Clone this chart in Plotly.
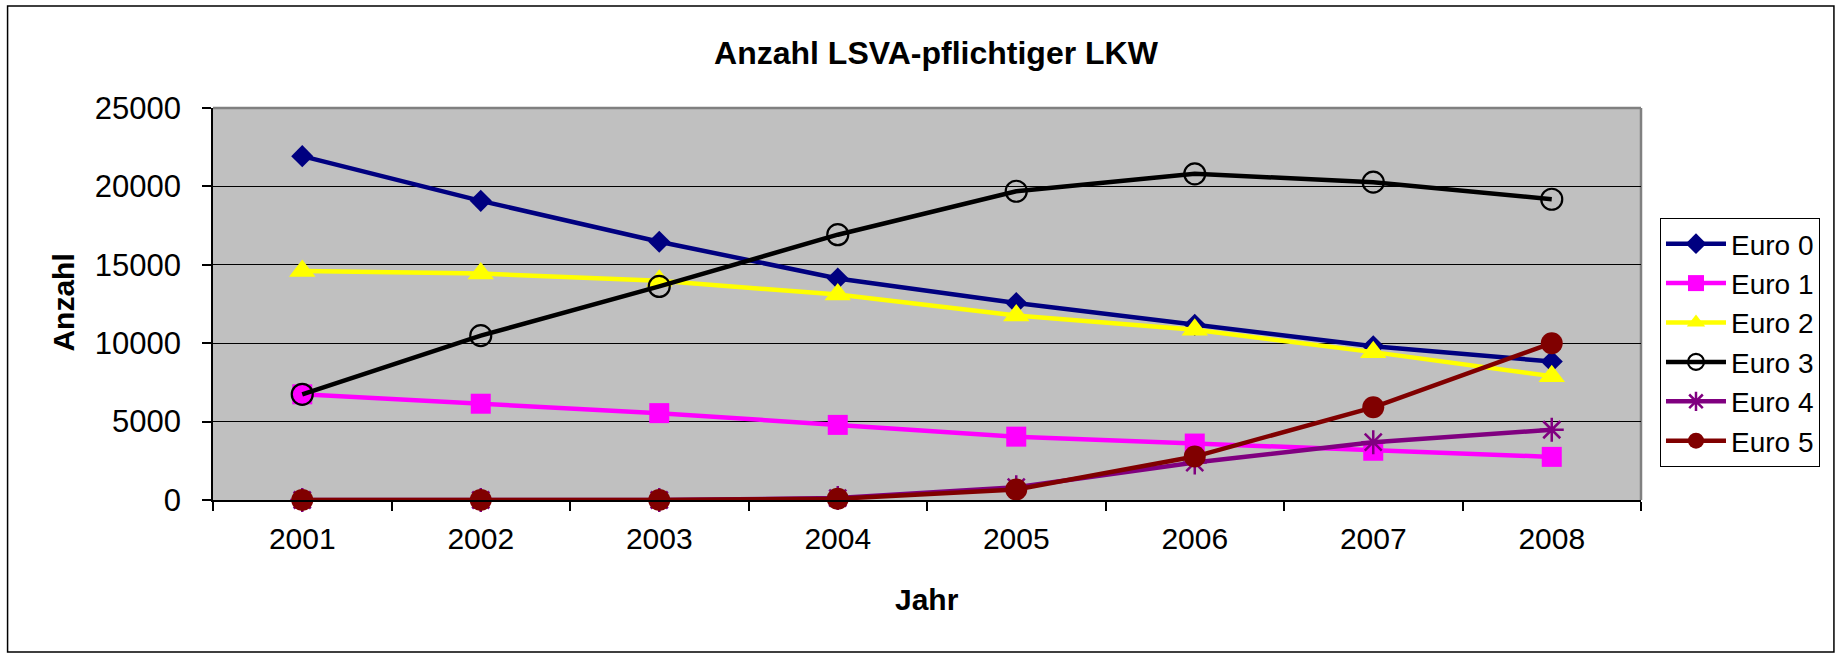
import plotly.graph_objects as go

years = ["2001", "2002", "2003", "2004", "2005", "2006", "2007", "2008"]
euro0 = [21930, 19080, 16470, 14130, 12560, 11170, 9800, 8830]
euro1 = [6740, 6140, 5540, 4790, 4040, 3600, 3140, 2750]
euro2 = [14600, 14440, 13980, 13100, 11760, 10860, 9430, 7900]
euro3 = [6740, 10480, 13620, 16920, 19690, 20800, 20270, 19180]
euro4 = [0, 0, 0, 120, 820, 2390, 3690, 4480]
euro5 = [0, 0, 0, 80, 670, 2770, 5910, 10000]
names = ["Euro 0", "Euro 1", "Euro 2", "Euro 3", "Euro 4", "Euro 5"]

W, H = 1841, 656
L, R, T, B = 212.5, 1641, 108, 500
FONT = "Liberation Sans, Arial, sans-serif"

def px2x(px):
    return (px - L) / (R - L)

def py2y(py):
    return (B - py) / (B - T)

fig = go.Figure()

styles = [
    dict(color="#000080", symbol="diamond", size=17, mfill="#000080", mline="#000080", mlw=0),
    dict(color="#FF00FF", symbol="square", size=20, mfill="#FF00FF", mline="#FF00FF", mlw=0),
    dict(color="#FFFF00", symbol="triangle-up", size=23, mfill="#FFFF00", mline="#FFFF00", mlw=0),
    dict(color="#000000", symbol="circle-open", size=21, mfill="#000000", mline="#000000", mlw=2.2),
    dict(color="#800080", symbol="asterisk-open", size=20, mfill="#800080", mline="#800080", mlw=2.5),
    dict(color="#800000", symbol="circle", size=22, mfill="#800000", mline="#800000", mlw=0),
]
series = [euro0, euro1, euro2, euro3, euro4, euro5]

for name, vals, st in zip(names, series, styles):
    fig.add_trace(go.Scatter(
        x=years, y=vals, name=name, mode="lines+markers",
        line=dict(color=st["color"], width=4.5),
        marker=dict(symbol=st["symbol"], size=st["size"], color=st["mfill"],
                    line=dict(color=st["mline"], width=st["mlw"])),
        cliponaxis=False,
    ))

shapes = [
    # outer chart border
    dict(type="rect", xref="paper", yref="paper",
         x0=px2x(7), x1=px2x(1834), y0=py2y(652), y1=py2y(6),
         line=dict(color="black", width=1.5), fillcolor="rgba(0,0,0,0)", layer="below"),
    # plot area top and right border (gray)
    dict(type="line", xref="paper", yref="paper", x0=0, x1=1, y0=1, y1=1,
         line=dict(color="#808080", width=2.5), layer="below"),
    dict(type="line", xref="paper", yref="paper", x0=1, x1=1, y0=0, y1=1,
         line=dict(color="#808080", width=2.5), layer="below"),
]

annotations = [
    dict(text="<b>Anzahl</b>", xref="paper", yref="paper", x=px2x(62), y=py2y(303),
         textangle=-90, showarrow=False, font=dict(family=FONT, size=30, color="black"),
         xanchor="center", yanchor="middle"),
    dict(text="<b>Jahr</b>", xref="paper", yref="paper", x=px2x(927), y=py2y(599),
         showarrow=False, font=dict(family=FONT, size=30, color="black"),
         xanchor="center", yanchor="middle"),
]

fig.update_layout(
    width=W, height=H,
    margin=dict(l=L, r=W - R, t=T, b=H - B, pad=0),
    paper_bgcolor="white", plot_bgcolor="#C0C0C0",
    title=dict(text="<b>Anzahl LSVA-pflichtiger LKW</b>", x=936 / W, xref="container",
               xanchor="center", y=1 - 53 / H, yref="container", yanchor="middle",
               font=dict(family=FONT, size=32, color="black")),
    font=dict(family=FONT, color="black"),
    showlegend=True,
    legend=dict(x=px2x(1660), y=py2y(218), xanchor="left", yanchor="top",
                bordercolor="black", borderwidth=1, bgcolor="white",
                font=dict(family=FONT, size=28, color="black"),
                itemwidth=60, tracegroupgap=0),
    shapes=shapes,
    annotations=annotations,
)

fig.update_xaxes(
    type="category", range=[-0.5, 7.5], showgrid=False,
    showline=True, linecolor="black", linewidth=1.5,
    ticks="outside", ticklen=9, tickcolor="black", tickwidth=1.5,
    tickson="boundaries",
    tickfont=dict(family=FONT, size=30, color="black"),
    ticklabelstandoff=11,
    zeroline=False,
)
fig.update_yaxes(
    range=[0, 25000], tickmode="array", tickvals=[0, 5000, 10000, 15000, 20000, 25000],
    tickformat="d",
    showgrid=True, gridcolor="black", gridwidth=1,
    showline=True, linecolor="black", linewidth=1.5,
    ticks="outside", ticklen=9, tickcolor="black", tickwidth=1.5,
    tickfont=dict(family=FONT, size=31, color="black"),
    ticklabelstandoff=15,
    zeroline=False,
)

fig.write_html("out.html", config={"displayModeBar": False},
               post_script="document.body.style.margin='0';document.body.style.overflow='hidden';")
